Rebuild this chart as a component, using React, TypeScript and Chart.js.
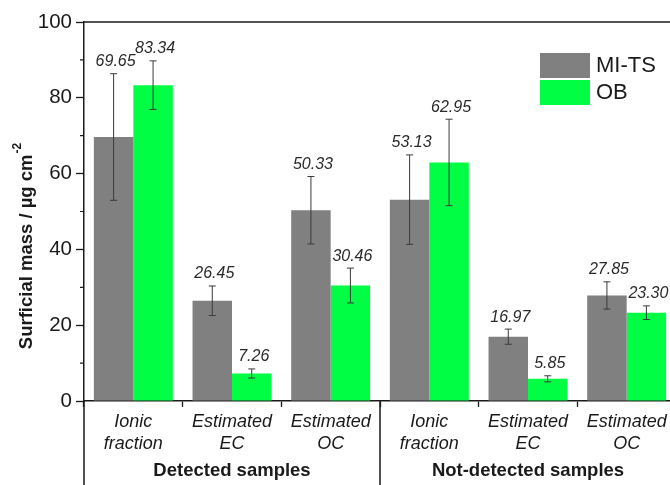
import React, { useEffect, useRef } from "react";
import { Chart, registerables } from "chart.js";

Chart.register(...registerables);

const categories: string[][] = [
  ["Ionic", "fraction"],
  ["Estimated", "EC"],
  ["Estimated", "OC"],
  ["Ionic", "fraction"],
  ["Estimated", "EC"],
  ["Estimated", "OC"],
];
const groups = ["Detected samples", "Not-detected samples"];
const groupSizes = [3, 3];
const seriesNames = ["MI-TS", "OB"];
const miTs = [69.65, 26.45, 50.33, 53.13, 16.97, 27.85];
const miTsErr = [16.7, 3.9, 8.9, 11.8, 2.0, 3.6];
const ob = [83.34, 7.26, 30.46, 62.95, 5.85, 23.3];
const obErr = [6.4, 1.2, 4.6, 11.4, 0.8, 1.8];
const yMin = 0;
const yMax = 100;
const yStep = 20;
const yMinorTicks = [10, 30, 50, 70, 90];
const yTitle = "Surficial mass / µg cm";
const yTitleSup = "-2";

const GREY = "#808080";
const GREEN = "#00FF44";
const INK = "#1a1a1a";

const errors = [miTsErr, obErr];

const decorPlugin = {
  id: "decor",
  afterDatasetsDraw(chart: any) {
    const ctx: CanvasRenderingContext2D = chart.ctx;
    const { left, right, top, bottom } = chart.chartArea;
    const ys = chart.scales.y;
    const xs = chart.scales.x;
    const H = chart.height;

    // error bars + value labels
    chart.data.datasets.forEach((ds: any, di: number) => {
      const meta = chart.getDatasetMeta(di);
      meta.data.forEach((bar: any, i: number) => {
        const v = ds.data[i];
        const e = errors[di][i];
        const yT = ys.getPixelForValue(v + e);
        const yB = ys.getPixelForValue(v - e);
        const x = bar.x;
        ctx.save();
        ctx.strokeStyle = "#3a3a3a";
        ctx.lineWidth = 1;
        ctx.beginPath();
        ctx.moveTo(x, yT);
        ctx.lineTo(x, yB);
        ctx.moveTo(x - 3.5, yT);
        ctx.lineTo(x + 3.5, yT);
        ctx.moveTo(x - 3.5, yB);
        ctx.lineTo(x + 3.5, yB);
        ctx.stroke();
        ctx.fillStyle = "#2a2a2a";
        ctx.font = "italic 16px 'Liberation Sans', Arial, sans-serif";
        ctx.textAlign = "center";
        ctx.textBaseline = "bottom";
        ctx.fillText(v.toFixed(2), x + 2, yT - 4);
        ctx.restore();
      });
    });

    ctx.save();
    ctx.strokeStyle = INK;
    ctx.lineWidth = 1.5;
    // frame top & right
    ctx.beginPath();
    ctx.moveTo(left, top);
    ctx.lineTo(right, top);
    ctx.lineTo(right, bottom);
    ctx.stroke();
    // minor ticks
    ctx.lineWidth = 1.2;
    ctx.beginPath();
    yMinorTicks.forEach((v) => {
      const y = ys.getPixelForValue(v);
      ctx.moveTo(left - 4, y);
      ctx.lineTo(left, y);
    });
    ctx.stroke();
    // left axis extension and group dividers
    ctx.lineWidth = 1.5;
    ctx.beginPath();
    ctx.moveTo(left, bottom);
    ctx.lineTo(left, H);
    let start = 0;
    groupSizes.forEach((n, gi) => {
      const end = start + n - 1;
      if (gi < groupSizes.length - 1) {
        const xd = (xs.getPixelForValue(end) + xs.getPixelForValue(end + 1)) / 2;
        ctx.moveTo(xd, bottom);
        ctx.lineTo(xd, H);
      }
      start += n;
    });
    ctx.stroke();
    // group labels
    ctx.fillStyle = INK;
    ctx.font = "bold 18.5px 'Liberation Sans', Arial, sans-serif";
    ctx.textAlign = "center";
    ctx.textBaseline = "middle";
    start = 0;
    groupSizes.forEach((n, gi) => {
      const end = start + n - 1;
      const cx = (xs.getPixelForValue(start) + xs.getPixelForValue(end)) / 2;
      ctx.fillText(groups[gi], cx, 471);
      start += n;
    });
    // legend
    const lx = right - 136;
    const colors = [GREY, GREEN];
    seriesNames.forEach((name, i) => {
      const by = 53 + i * 27;
      ctx.fillStyle = colors[i];
      ctx.fillRect(lx, by, 50, 25);
      ctx.fillStyle = INK;
      ctx.font = "22px 'Liberation Sans', Arial, sans-serif";
      ctx.textAlign = "left";
      ctx.textBaseline = "middle";
      ctx.fillText(name, lx + 56, by + 13);
    });
    // y title
    ctx.translate(27, (top + bottom) / 2 + 35);
    ctx.rotate(-Math.PI / 2);
    ctx.font = "bold 18.5px 'Liberation Sans', Arial, sans-serif";
    const w1 = ctx.measureText(yTitle).width;
    ctx.font = "bold 12px 'Liberation Sans', Arial, sans-serif";
    const w2 = ctx.measureText(yTitleSup).width;
    const x0 = -(w1 + w2) / 2;
    ctx.fillStyle = INK;
    ctx.textAlign = "left";
    ctx.textBaseline = "middle";
    ctx.font = "bold 18.5px 'Liberation Sans', Arial, sans-serif";
    ctx.fillText(yTitle, x0, 0);
    ctx.font = "bold 12px 'Liberation Sans', Arial, sans-serif";
    ctx.fillText(yTitleSup, x0 + w1 + 1, -9);
    ctx.restore();
  },
};

export default function App() {
  const ref = useRef<HTMLCanvasElement | null>(null);
  useEffect(() => {
    if (!ref.current) return;
    const chart = new Chart(ref.current, {
      type: "bar",
      data: {
        labels: categories as any,
        datasets: [
          { label: seriesNames[0], data: miTs, backgroundColor: GREY, borderWidth: 0 },
          { label: seriesNames[1], data: ob, backgroundColor: GREEN, borderWidth: 0 },
        ],
      },
      options: {
        responsive: false,
        animation: false,
        devicePixelRatio: 1,
        layout: { padding: { left: 0, top: 22, right: 14, bottom: 0 } },
        datasets: { bar: { categoryPercentage: 0.8, barPercentage: 1.0 } },
        plugins: { legend: { display: false }, tooltip: { enabled: false } },
        scales: {
          x: {
            type: "category",
            grid: { drawOnChartArea: false, tickLength: 6, tickColor: INK, tickWidth: 1.3, offset: true },
            border: { display: true, color: INK, width: 1.5 },
            ticks: {
              color: INK,
              padding: 4,
              maxRotation: 0,
              autoSkip: false,
              font: { family: "'Liberation Sans', Arial, sans-serif", size: 18, style: "italic", lineHeight: 1.22 },
            },
            afterFit: (s: any) => {
              s.height = 84;
            },
          },
          y: {
            min: yMin,
            max: yMax,
            grid: { drawOnChartArea: false, tickLength: 8, tickColor: INK, tickWidth: 1.3 },
            border: { display: true, color: INK, width: 1.5 },
            ticks: {
              stepSize: yStep,
              color: INK,
              padding: 4,
              font: { family: "'Liberation Sans', Arial, sans-serif", size: 20.5 },
            },
            afterFit: (s: any) => {
              s.width = 84;
            },
          },
        },
      },
      plugins: [decorPlugin],
    } as any);
    return () => chart.destroy();
  }, []);
  return (
    <div
      style={{
        position: "fixed",
        left: 0,
        top: 0,
        width: 670,
        height: 485,
        overflow: "hidden",
        background: "#fff",
      }}
    >
      <canvas ref={ref} width={690} height={485} style={{ display: "block" }} />
    </div>
  );
}
